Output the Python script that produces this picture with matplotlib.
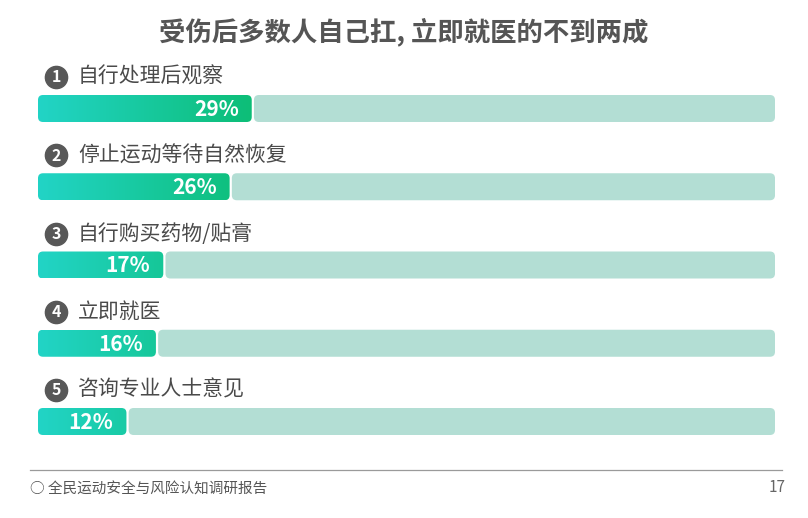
import numpy as np
import matplotlib
matplotlib.use("Agg")
import matplotlib.pyplot as plt
from matplotlib.patches import FancyBboxPatch
from matplotlib.colors import LinearSegmentedColormap
from matplotlib.lines import Line2D

plt.rcParams['font.family'] = ['Noto Sans CJK SC', 'DejaVu Sans']

# data
title = "受伤后多数人自己扛, 立即就医的不到两成"
categories = ["自行处理后观察", "停止运动等待自然恢复", "自行购买药物/贴膏", "立即就医", "咨询专业人士意见"]
values = [29, 26, 17, 16, 12]
footer = "○ 全民运动安全与风险认知调研报告"
page_no = "17"

W, H = 808, 518
fig = plt.figure(figsize=(W / 100, H / 100), dpi=100)
fig.patch.set_facecolor("white")

# bar axes: x in percent (0-100), y = item index
ax_left, ax_right, ax_top, ax_bot = 38, 775, 60, 450
ax = fig.add_axes([ax_left / W, 1 - ax_bot / H, (ax_right - ax_left) / W, (ax_bot - ax_top) / H])
px_x = (ax_right - ax_left) / 100.0
row = 78.25
first_c = 108.5
y_top = (ax_top - first_c) / row
y_bot = (ax_bot - first_c) / row

bar_h = 27 / row
rad_px = 5
rx = rad_px / px_x
aspect = (rad_px / row) / rx

cmap = LinearSegmentedColormap.from_list("g", ["#22d4c6", "#0cbd74"])
grad = np.linspace(0, 1, 256).reshape(1, -1)

for i, (cat, v) in enumerate(zip(categories, values)):
    y0 = i - bar_h / 2
    # background track
    track = FancyBboxPatch((v + 0.3, y0), 100 - v - 0.3, bar_h,
                           boxstyle=f"round,pad=0,rounding_size={rx}",
                           mutation_aspect=aspect, fc="#b3ded4", ec="none")
    ax.add_patch(track)
    # gradient bar
    bar = FancyBboxPatch((0, y0), v, bar_h,
                         boxstyle=f"round,pad=0,rounding_size={rx}",
                         mutation_aspect=aspect, fc="none", ec="none")
    ax.add_patch(bar)
    im = ax.imshow(grad, cmap=cmap, extent=(0, 30, y0 + bar_h, y0),
                   aspect="auto", interpolation="bicubic", zorder=2)
    im.set_clip_path(bar)
    ax.text(v - 13 / px_x, i + 0.01, f"{v}%", color="white", fontsize=15,
            fontweight="bold", ha="right", va="center", zorder=3)
    # number badge and label
    ly = i - (first_c - 77) / row
    ax.plot(18 / px_x, ly, "o", ms=16, color="#585858", clip_on=False, zorder=3)
    ax.text(18 / px_x, ly + 0.005, str(i + 1), color="white", fontsize=11.5,
            fontweight="bold", ha="center", va="center", zorder=4)
    ax.text(40 / px_x, ly, cat, color="#4a4a4a", fontsize=15,
            ha="left", va="center")

ax.set_xlim(0, 100)
ax.set_ylim(y_bot, y_top)
ax.axis("off")

fig.text(0.5, 1 - 32 / H, title, ha="center", va="center", fontsize=19,
         fontweight="heavy", color="#555555")

fig.add_artist(Line2D([30 / W, 782 / W], [1 - 470 / H, 1 - 470 / H],
                      color="#9a9a9a", lw=0.9))
fig.text(30 / W, 1 - 490 / H, footer, ha="left", va="center", fontsize=10.5,
         color="#555555")
fig.text(786 / W, 1 - 487 / H, page_no, ha="right", va="center", fontsize=11,
         color="#666666")

fig.savefig("out.png", dpi=100)
